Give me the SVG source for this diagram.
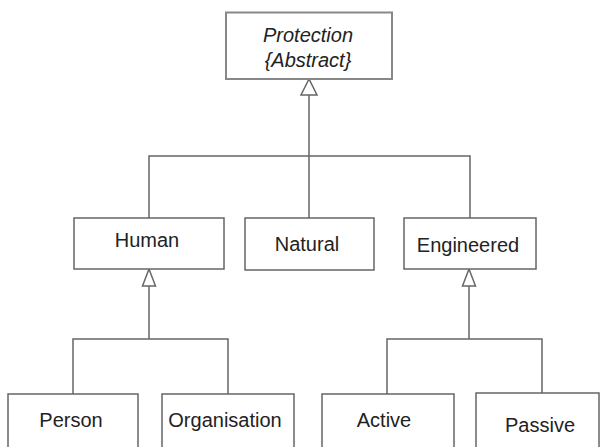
<svg xmlns="http://www.w3.org/2000/svg" width="602" height="447" viewBox="0 0 602 447">
  <defs>
    <style>
      .box { fill: #fff; stroke: #666; stroke-width: 1.5; }
      .top { fill: #fff; stroke: #888; stroke-width: 2; }
      .lbl { font-family: "Liberation Sans", Arial, sans-serif; font-size: 20px; fill: #222; text-anchor: middle; }
      .abs { font-style: italic; }
      .line { fill: none; stroke: #666; stroke-width: 1.5; }
      .head { fill: #fff; stroke: #666; stroke-width: 1.5; stroke-linejoin: miter; }
    </style>
  </defs>
  <rect width="602" height="447" fill="#fff"/>

  <!-- generalisation connectors -->
  <g id="connectors">
    <path class="line" d="M309 95 V218 M149 218 V156 H470 V218"/>
    <polygon class="head" points="309,79 301,95 317,95"/>
    <path class="line" d="M149 286 V339 M73 394 V339 H228 V394"/>
    <polygon class="head" points="149,269 142.5,286 155.5,286"/>
    <path class="line" d="M469 286 V339 M387 394 V339 H542 V394"/>
    <polygon class="head" points="469,269 462.5,286 475.5,286"/>
  </g>

  <g id="protection">
    <rect class="top" x="226" y="12.5" width="166" height="66.5"/>
    <text class="lbl abs" x="308" y="41.5">Protection</text>
    <text class="lbl abs" x="308" y="66.5">{Abstract}</text>
  </g>

  <g id="human">
    <rect class="box" x="74" y="218" width="150" height="51"/>
    <text class="lbl" x="147" y="247">Human</text>
  </g>
  <g id="natural">
    <rect class="box" x="245" y="218" width="129" height="52"/>
    <text class="lbl" x="307" y="251">Natural</text>
  </g>
  <g id="engineered">
    <rect class="box" x="404" y="218" width="132" height="51"/>
    <text class="lbl" x="468" y="251.5">Engineered</text>
  </g>

  <g id="person">
    <rect class="box" x="8" y="394" width="130" height="60"/>
    <text class="lbl" x="71" y="427">Person</text>
  </g>
  <g id="organisation">
    <rect class="box" x="162" y="394" width="132" height="60"/>
    <text class="lbl" x="225" y="427">Organisation</text>
  </g>
  <g id="active">
    <rect class="box" x="322" y="394" width="132" height="60"/>
    <text class="lbl" x="384" y="427">Active</text>
  </g>
  <g id="passive">
    <rect class="box" x="476" y="393" width="123" height="60"/>
    <text class="lbl" x="540" y="432">Passive</text>
  </g>
</svg>
